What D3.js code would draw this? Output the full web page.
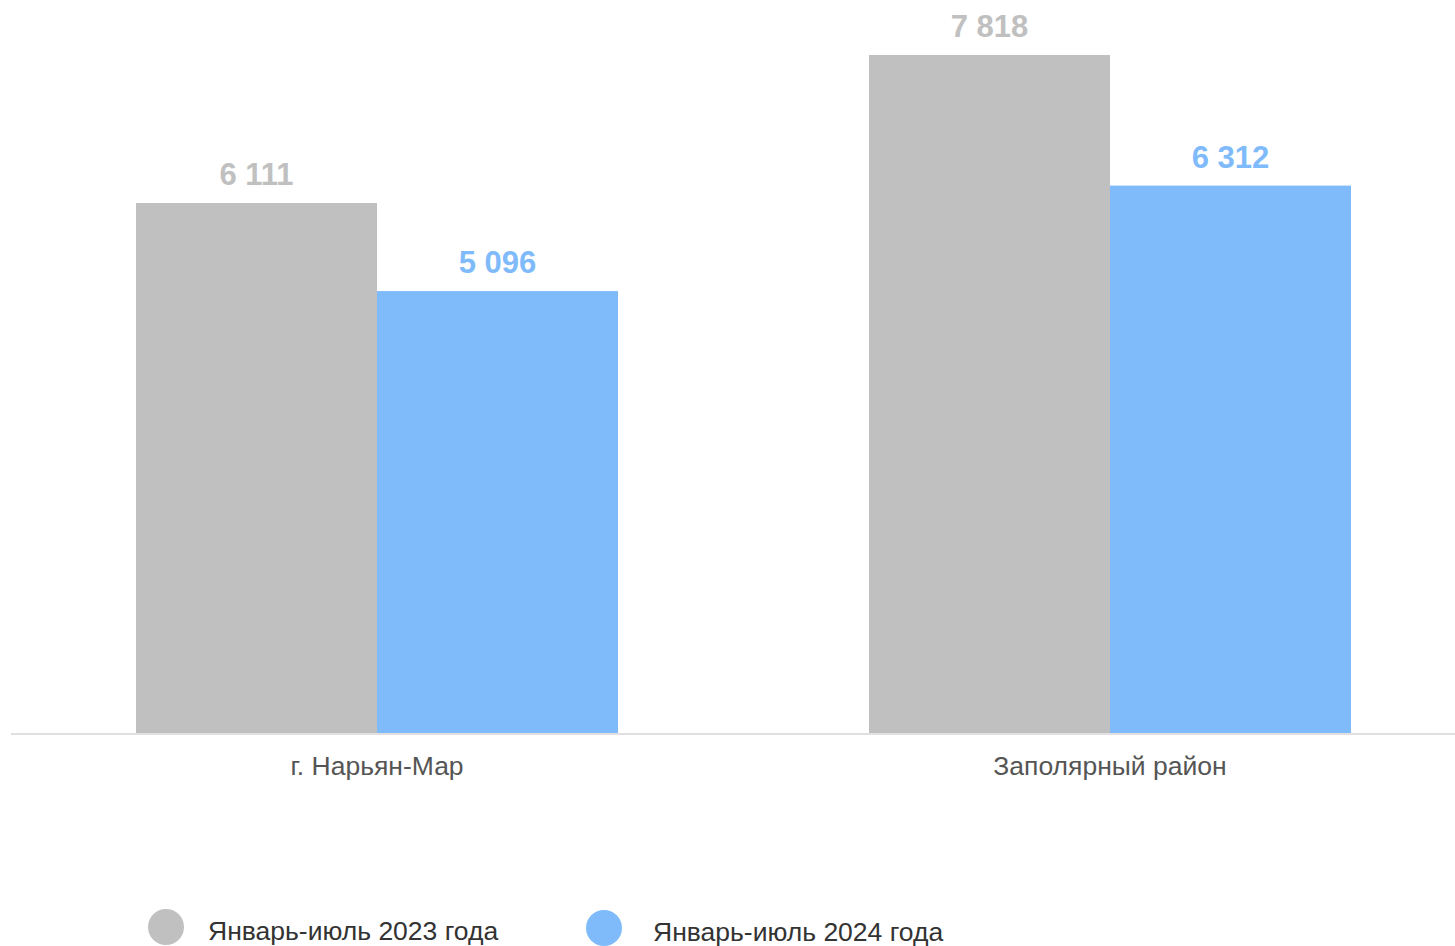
<!DOCTYPE html>
<html><head><meta charset="utf-8">
<script src="https://cdn.jsdelivr.net/npm/d3@7"></script>
<style>body{margin:0;background:#fff;}svg{display:block;font-family:"Liberation Sans",Arial,sans-serif;}</style>
</head><body>
<svg id="chart" width="1455" height="946"></svg>
<script>
const categories = ["г. Нарьян-Мар", "Заполярный район"];
const seriesNames = ["Январь-июль 2023 года", "Январь-июль 2024 года"];
const values2023 = [6111, 7818];
const values2024 = [5096, 6312];
const colors = ["#c0c0c0", "#7fbbfa"];

const svg = d3.select("#chart");
const baseY = 733;
const x0 = d3.scaleBand().domain(categories).range([10.5, 1476.5]).paddingInner(0).paddingOuter(0);
const groupW = 482;
const x1 = d3.scaleBand().domain(seriesNames).range([0, groupW]);
const y = d3.scaleLinear().domain([0, 7818]).range([baseY, 55]);

const data = categories.map((c, i) => ({cat: c, vals: [values2023[i], values2024[i]]}));
const fmt = v => d3.format(",")(v).replace(/,/g, " ");

const g = svg.selectAll("g.grp").data(data).enter().append("g")
  .attr("transform", d => `translate(${x0(d.cat) + x0.bandwidth()/2 - groupW/2},0)`);

g.selectAll("rect").data(d => d.vals.map((v, j) => ({v, j}))).enter().append("rect")
  .attr("x", d => x1(seriesNames[d.j]))
  .attr("width", x1.bandwidth())
  .attr("y", d => y(d.v))
  .attr("height", d => baseY - y(d.v))
  .attr("fill", d => colors[d.j]);

g.selectAll("text.val").data(d => d.vals.map((v, j) => ({v, j}))).enter().append("text")
  .attr("class", "val")
  .attr("x", d => x1(seriesNames[d.j]) + x1.bandwidth()/2)
  .attr("y", d => y(d.v) - 18)
  .attr("text-anchor", "middle")
  .attr("font-size", 31).attr("font-weight", "bold")
  .attr("fill", d => colors[d.j])
  .text(d => fmt(d.v));

svg.append("line").attr("x1", 11).attr("x2", 1455).attr("y1", baseY + 1).attr("y2", baseY + 1)
  .attr("stroke", "#e0e0e0").attr("stroke-width", 2);

svg.selectAll("text.cat").data(categories).enter().append("text")
  .attr("class", "cat")
  .attr("x", d => x0(d) + x0.bandwidth()/2)
  .attr("y", 775)
  .attr("text-anchor", "middle")
  .attr("font-size", 26.5).attr("fill", "#555")
  .text(d => d);

const legX = [166, 604];
const leg = svg.selectAll("g.leg").data(seriesNames).enter().append("g");
leg.append("circle").attr("cx", (d, i) => legX[i]).attr("cy", (d, i) => 927 + i).attr("r", 18)
  .attr("fill", (d, i) => colors[i]);
leg.append("text").attr("x", (d, i) => legX[i] + 42 + i*7).attr("y", (d, i) => 940 + i)
  .attr("font-size", 26.5).attr("fill", "#333").text(d => d);
</script>
</body></html>
